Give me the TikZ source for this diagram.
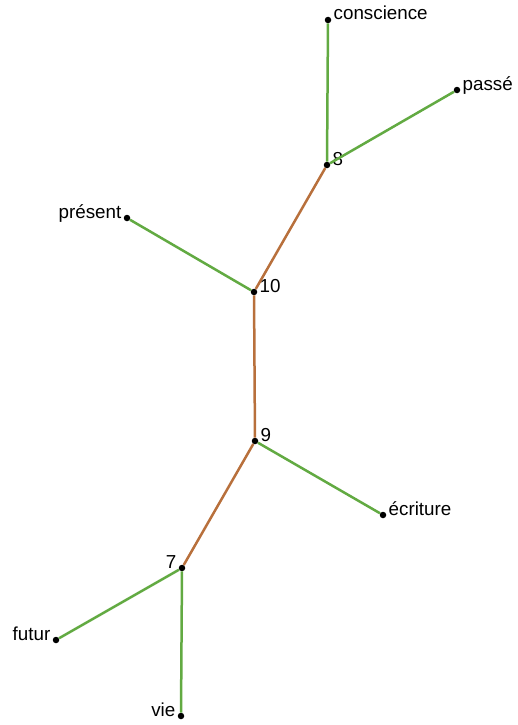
\documentclass[tikz,border=0pt]{standalone}
\usepackage{fontspec}
\setmainfont{Liberation Sans}
\usepackage{xcolor}
\usetikzlibrary{positioning}
\definecolor{leafgreen}{RGB}{98,170,66}
\definecolor{treebrown}{RGB}{184,112,60}
\tikzset{
    vertex/.style={
        circle,
        fill=black,
        inner sep=0pt,
        minimum size=6.5pt
    },
    lr/.style={label={[anchor=base west, label distance=2pt, inner sep=0pt]0:#1}},
    ll/.style={label={[anchor=base east, label distance=2pt, inner sep=0pt]180:#1}},
    leaf/.style={line width=2.5pt, leafgreen},
    inner/.style={line width=2.5pt, treebrown}
}
\begin{document}
\begin{tikzpicture}[x=1pt, y=-1pt,
    every label/.style={font=\fontsize{18.8}{21}\selectfont}]
    \useasboundingbox (0,0) rectangle (518,725);
    % Vertices
    \node[vertex, lr=conscience] (conscience) at (328,20) {};
    \node[vertex, lr=passé] (passe) at (457,90) {};
    \node[vertex, lr=8] (n8) at (327,165) {};
    \node[vertex, ll=présent] (present) at (127,218) {};
    \node[vertex, lr=10] (n10) at (254,292) {};
    \node[vertex, lr=9] (n9) at (255,441) {};
    \node[vertex, lr=écriture] (ecriture) at (383,515) {};
    \node[vertex, ll=7] (n7) at (182,568) {};
    \node[vertex, ll=futur] (futur) at (56,640) {};
    \node[vertex, ll=vie] (vie) at (181,716) {};

    % Edges
    \draw[leaf] (n8) -- (conscience);
    \draw[leaf] (n8) -- (passe);
    \draw[inner] (n8) -- (n10);
    \draw[leaf] (n10) -- (present);
    \draw[inner] (n10) -- (n9);
    \draw[leaf] (n9) -- (ecriture);
    \draw[inner] (n9) -- (n7);
    \draw[leaf] (n7) -- (futur);
    \draw[leaf] (n7) -- (vie);
\end{tikzpicture}
\end{document}
